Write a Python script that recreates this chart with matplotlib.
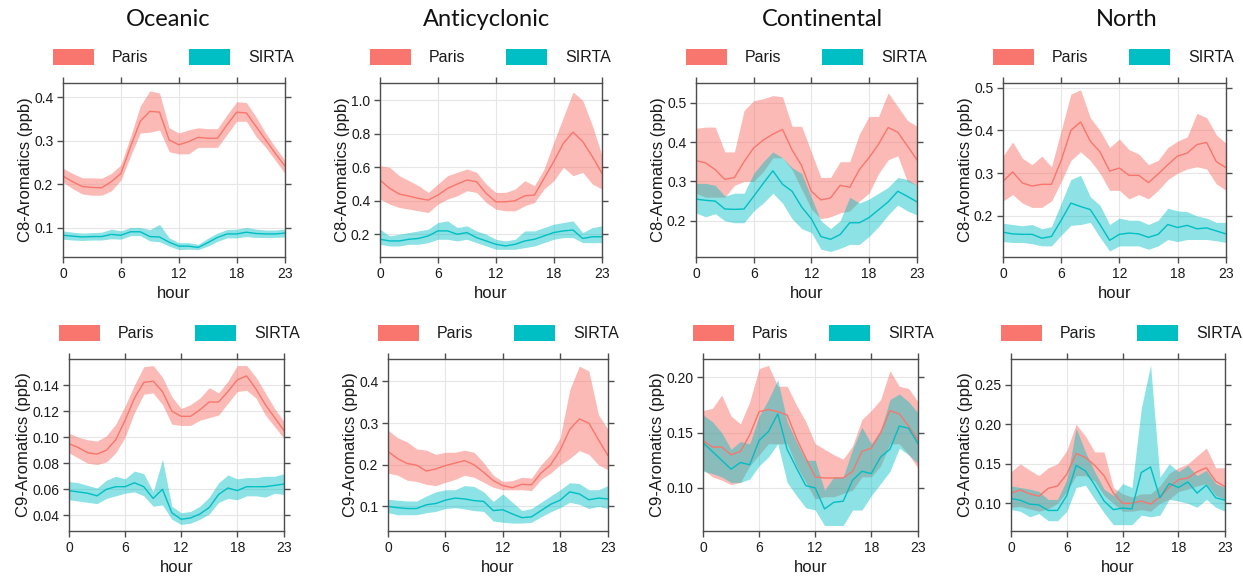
import numpy as np
import matplotlib
matplotlib.use("Agg")
import matplotlib.pyplot as plt
import matplotlib.patches as mpatches
from matplotlib.ticker import FormatStrFormatter

plt.rcParams['font.family'] = ['Liberation Sans', 'DejaVu Sans']

hours = list(range(24))
regimes = ['Oceanic', 'Anticyclonic', 'Continental', 'North']
sites = ['Paris', 'SIRTA']
paris_col = '#F8766D'
sirta_col = '#00BFC4'

# ---- C8-Aromatics (ppb), row 1 ----
oce_c8_paris = [0.219, 0.206, 0.195, 0.193, 0.192, 0.206, 0.225, 0.287, 0.345, 0.368, 0.366, 0.302,
                0.291, 0.298, 0.308, 0.306, 0.306, 0.337, 0.366, 0.364, 0.333, 0.302, 0.271, 0.242]
oce_c8_paris_hi = [0.237, 0.225, 0.215, 0.215, 0.214, 0.225, 0.245, 0.31, 0.38, 0.415, 0.41, 0.33,
                   0.318, 0.325, 0.33, 0.328, 0.328, 0.36, 0.39, 0.388, 0.355, 0.318, 0.285, 0.255]
oce_c8_paris_lo = [0.205, 0.19, 0.178, 0.175, 0.175, 0.185, 0.21, 0.265, 0.318, 0.32, 0.325, 0.275,
                   0.27, 0.27, 0.285, 0.285, 0.285, 0.315, 0.345, 0.345, 0.31, 0.285, 0.255, 0.225]
oce_c8_sirta = [0.083, 0.081, 0.079, 0.080, 0.080, 0.085, 0.083, 0.091, 0.091, 0.080, 0.079, 0.067,
                0.058, 0.058, 0.055, 0.066, 0.078, 0.086, 0.086, 0.090, 0.087, 0.086, 0.086, 0.088]
oce_c8_sirta_hi = [0.093, 0.09, 0.088, 0.089, 0.09, 0.097, 0.093, 0.101, 0.101, 0.096, 0.108, 0.077,
                   0.066, 0.066, 0.062, 0.076, 0.088, 0.096, 0.097, 0.101, 0.097, 0.095, 0.095, 0.097]
oce_c8_sirta_lo = [0.074, 0.072, 0.071, 0.072, 0.072, 0.075, 0.074, 0.082, 0.082, 0.07, 0.068, 0.058,
                   0.050, 0.051, 0.05, 0.058, 0.069, 0.077, 0.077, 0.08, 0.078, 0.078, 0.078, 0.079]

ant_c8_paris = [0.524, 0.474, 0.44, 0.428, 0.414, 0.404, 0.434, 0.474, 0.5, 0.524, 0.514, 0.444,
                0.394, 0.394, 0.4, 0.43, 0.434, 0.534, 0.634, 0.744, 0.81, 0.754, 0.664, 0.564]
ant_c8_paris_hi = [0.61, 0.6, 0.55, 0.52, 0.49, 0.45, 0.5, 0.55, 0.57, 0.59, 0.57, 0.5,
                   0.45, 0.45, 0.47, 0.52, 0.49, 0.59, 0.75, 0.9, 1.05, 1.0, 0.85, 0.67]
ant_c8_paris_lo = [0.41, 0.38, 0.36, 0.35, 0.34, 0.33, 0.38, 0.41, 0.43, 0.46, 0.45, 0.39,
                   0.35, 0.34, 0.34, 0.37, 0.39, 0.47, 0.52, 0.6, 0.55, 0.57, 0.5, 0.47]
ant_c8_sirta = [0.17, 0.16, 0.16, 0.17, 0.175, 0.19, 0.22, 0.22, 0.2, 0.21, 0.18, 0.16,
                0.14, 0.13, 0.14, 0.16, 0.17, 0.19, 0.21, 0.22, 0.225, 0.175, 0.185, 0.185]
ant_c8_sirta_hi = [0.23, 0.19, 0.2, 0.21, 0.22, 0.23, 0.27, 0.28, 0.24, 0.25, 0.22, 0.2,
                   0.17, 0.16, 0.17, 0.22, 0.22, 0.24, 0.26, 0.27, 0.28, 0.21, 0.24, 0.25]
ant_c8_sirta_lo = [0.14, 0.13, 0.13, 0.14, 0.14, 0.15, 0.17, 0.17, 0.16, 0.17, 0.15, 0.13,
                   0.11, 0.11, 0.11, 0.12, 0.13, 0.15, 0.17, 0.18, 0.18, 0.15, 0.15, 0.15]

con_c8_paris = [0.353, 0.347, 0.33, 0.305, 0.31, 0.35, 0.385, 0.405, 0.42, 0.432, 0.38, 0.34,
                0.275, 0.253, 0.258, 0.29, 0.285, 0.33, 0.36, 0.395, 0.437, 0.425, 0.39, 0.355]
con_c8_paris_hi = [0.435, 0.438, 0.438, 0.375, 0.375, 0.48, 0.505, 0.51, 0.518, 0.515, 0.44, 0.44,
                   0.375, 0.31, 0.31, 0.35, 0.35, 0.42, 0.465, 0.465, 0.525, 0.49, 0.455, 0.44]
con_c8_paris_lo = [0.27, 0.26, 0.26, 0.26, 0.29, 0.3, 0.3, 0.325, 0.36, 0.36, 0.33, 0.28,
                   0.23, 0.205, 0.21, 0.22, 0.225, 0.25, 0.27, 0.32, 0.355, 0.365, 0.3, 0.29]
con_c8_sirta = [0.255, 0.252, 0.25, 0.23, 0.229, 0.23, 0.262, 0.295, 0.327, 0.293, 0.275, 0.235,
                0.205, 0.16, 0.153, 0.165, 0.195, 0.195, 0.208, 0.228, 0.248, 0.275, 0.262, 0.248]
con_c8_sirta_hi = [0.295, 0.295, 0.29, 0.263, 0.27, 0.27, 0.32, 0.35, 0.375, 0.36, 0.335, 0.32,
                   0.26, 0.2, 0.18, 0.2, 0.26, 0.245, 0.255, 0.27, 0.285, 0.31, 0.305, 0.29]
con_c8_sirta_lo = [0.22, 0.21, 0.218, 0.2, 0.195, 0.195, 0.225, 0.245, 0.27, 0.245, 0.205, 0.18,
                   0.17, 0.128, 0.122, 0.13, 0.14, 0.14, 0.16, 0.185, 0.215, 0.24, 0.225, 0.215]

nor_c8_paris = [0.281, 0.303, 0.277, 0.27, 0.274, 0.274, 0.33, 0.4, 0.42, 0.375, 0.35, 0.305,
                0.312, 0.295, 0.295, 0.278, 0.298, 0.32, 0.34, 0.347, 0.367, 0.372, 0.327, 0.313]
nor_c8_paris_hi = [0.34, 0.373, 0.335, 0.32, 0.34, 0.315, 0.4, 0.485, 0.495, 0.43, 0.4, 0.36,
                   0.38, 0.355, 0.345, 0.32, 0.33, 0.36, 0.375, 0.385, 0.44, 0.43, 0.39, 0.37]
nor_c8_paris_lo = [0.235, 0.25, 0.23, 0.22, 0.22, 0.235, 0.28, 0.33, 0.35, 0.33, 0.3, 0.26,
                   0.26, 0.24, 0.25, 0.24, 0.26, 0.285, 0.3, 0.31, 0.315, 0.31, 0.275, 0.26]
nor_c8_sirta = [0.162, 0.158, 0.157, 0.157, 0.148, 0.152, 0.19, 0.23, 0.222, 0.215, 0.18, 0.143,
                0.157, 0.16, 0.158, 0.15, 0.157, 0.18, 0.173, 0.178, 0.17, 0.172, 0.165, 0.158]
nor_c8_sirta_hi = [0.183, 0.18, 0.177, 0.18, 0.17, 0.175, 0.23, 0.285, 0.295, 0.245, 0.225, 0.18,
                   0.195, 0.19, 0.19, 0.18, 0.19, 0.218, 0.212, 0.21, 0.2, 0.195, 0.185, 0.185]
nor_c8_sirta_lo = [0.14, 0.138, 0.138, 0.135, 0.13, 0.13, 0.155, 0.178, 0.18, 0.185, 0.15, 0.118,
                   0.13, 0.13, 0.13, 0.122, 0.13, 0.145, 0.14, 0.145, 0.145, 0.145, 0.142, 0.138]

# ---- C9-Aromatics (ppb), row 2 ----
oce_c9_paris = [0.095, 0.092, 0.088, 0.087, 0.09, 0.098, 0.113, 0.13, 0.142, 0.143, 0.135, 0.12,
                0.116, 0.116, 0.121, 0.127, 0.127, 0.135, 0.144, 0.147, 0.137, 0.125, 0.115, 0.105]
oce_c9_paris_hi = [0.103, 0.1, 0.098, 0.097, 0.101, 0.11, 0.124, 0.14, 0.154, 0.155, 0.146, 0.131,
                   0.122, 0.125, 0.13, 0.138, 0.134, 0.143, 0.155, 0.155, 0.146, 0.134, 0.122, 0.112]
oce_c9_paris_lo = [0.088, 0.084, 0.08, 0.079, 0.081, 0.088, 0.1, 0.119, 0.133, 0.134, 0.125, 0.11,
                   0.109, 0.109, 0.113, 0.115, 0.117, 0.126, 0.135, 0.136, 0.13, 0.117, 0.108, 0.099]
oce_c9_sirta = [0.059, 0.058, 0.057, 0.055, 0.060, 0.062, 0.062, 0.065, 0.062, 0.053, 0.060, 0.042,
                0.037, 0.038, 0.041, 0.046, 0.056, 0.061, 0.059, 0.062, 0.062, 0.062, 0.063, 0.064]
oce_c9_sirta_hi = [0.066, 0.065, 0.063, 0.061, 0.067, 0.070, 0.068, 0.074, 0.072, 0.058, 0.083, 0.047,
                   0.042, 0.043, 0.047, 0.054, 0.065, 0.071, 0.068, 0.069, 0.069, 0.07, 0.07, 0.072]
oce_c9_sirta_lo = [0.052, 0.051, 0.05, 0.049, 0.053, 0.055, 0.057, 0.058, 0.055, 0.047, 0.048, 0.037,
                   0.033, 0.034, 0.037, 0.041, 0.05, 0.053, 0.052, 0.055, 0.055, 0.054, 0.057, 0.056]

ant_c9_paris = [0.232, 0.215, 0.203, 0.199, 0.185, 0.19, 0.198, 0.204, 0.21, 0.2, 0.182, 0.162,
                0.15, 0.145, 0.153, 0.152, 0.18, 0.2, 0.235, 0.285, 0.31, 0.3, 0.26, 0.222]
ant_c9_paris_hi = [0.283, 0.265, 0.255, 0.238, 0.235, 0.225, 0.23, 0.23, 0.235, 0.23, 0.205, 0.175,
                   0.16, 0.162, 0.17, 0.168, 0.2, 0.225, 0.265, 0.38, 0.437, 0.425, 0.32, 0.285]
ant_c9_paris_lo = [0.18, 0.175, 0.163, 0.16, 0.153, 0.15, 0.158, 0.165, 0.175, 0.17, 0.158, 0.146,
                   0.14, 0.14, 0.14, 0.138, 0.165, 0.18, 0.2, 0.215, 0.234, 0.225, 0.2, 0.188]
ant_c9_sirta = [0.1, 0.097, 0.095, 0.095, 0.104, 0.107, 0.115, 0.12, 0.118, 0.114, 0.112, 0.09,
                0.092, 0.082, 0.073, 0.075, 0.09, 0.105, 0.115, 0.135, 0.13, 0.116, 0.12, 0.118]
ant_c9_sirta_hi = [0.117, 0.115, 0.113, 0.113, 0.125, 0.135, 0.14, 0.14, 0.15, 0.148, 0.135, 0.112,
                   0.13, 0.11, 0.09, 0.095, 0.11, 0.125, 0.14, 0.157, 0.155, 0.14, 0.14, 0.15]
ant_c9_sirta_lo = [0.085, 0.08, 0.08, 0.08, 0.085, 0.088, 0.095, 0.097, 0.094, 0.09, 0.088, 0.065,
                   0.062, 0.06, 0.06, 0.062, 0.075, 0.087, 0.097, 0.11, 0.105, 0.095, 0.1, 0.095]

con_c9_paris = [0.143, 0.137, 0.137, 0.13, 0.133, 0.148, 0.169, 0.171, 0.169, 0.166, 0.145, 0.127,
                0.11, 0.109, 0.109, 0.109, 0.115, 0.133, 0.136, 0.15, 0.17, 0.167, 0.156, 0.143]
con_c9_paris_hi = [0.17, 0.172, 0.184, 0.165, 0.158, 0.178, 0.208, 0.211, 0.192, 0.192, 0.175, 0.16,
                   0.14, 0.135, 0.13, 0.126, 0.138, 0.162, 0.17, 0.18, 0.206, 0.192, 0.19, 0.178]
con_c9_paris_lo = [0.117, 0.11, 0.107, 0.103, 0.105, 0.12, 0.13, 0.14, 0.14, 0.14, 0.12, 0.105,
                   0.09, 0.092, 0.092, 0.095, 0.098, 0.11, 0.11, 0.12, 0.14, 0.14, 0.13, 0.118]
con_c9_sirta = [0.141, 0.133, 0.125, 0.117, 0.123, 0.121, 0.143, 0.151, 0.167, 0.135, 0.118, 0.102,
                0.1, 0.081, 0.087, 0.088, 0.107, 0.115, 0.113, 0.128, 0.135, 0.156, 0.154, 0.14]
con_c9_sirta_hi = [0.166, 0.16, 0.15, 0.135, 0.142, 0.14, 0.165, 0.18, 0.198, 0.16, 0.142, 0.125,
                   0.125, 0.098, 0.11, 0.11, 0.135, 0.155, 0.14, 0.152, 0.18, 0.185, 0.178, 0.168]
con_c9_sirta_lo = [0.115, 0.113, 0.11, 0.105, 0.105, 0.108, 0.12, 0.128, 0.14, 0.105, 0.093, 0.082,
                   0.08, 0.066, 0.066, 0.066, 0.08, 0.08, 0.093, 0.104, 0.115, 0.136, 0.13, 0.122]

nor_c9_paris = [0.113, 0.117, 0.112, 0.109, 0.119, 0.122, 0.137, 0.163, 0.158, 0.148, 0.135, 0.113,
                0.1, 0.1, 0.103, 0.099, 0.108, 0.12, 0.13, 0.132, 0.14, 0.145, 0.128, 0.121]
nor_c9_paris_hi = [0.14, 0.15, 0.142, 0.135, 0.145, 0.15, 0.167, 0.2, 0.185, 0.165, 0.165, 0.12,
                   0.112, 0.108, 0.112, 0.112, 0.122, 0.138, 0.145, 0.15, 0.16, 0.17, 0.145, 0.145]
nor_c9_paris_lo = [0.095, 0.096, 0.093, 0.09, 0.093, 0.1, 0.115, 0.135, 0.135, 0.128, 0.11, 0.1,
                   0.09, 0.09, 0.092, 0.09, 0.1, 0.105, 0.115, 0.118, 0.122, 0.125, 0.11, 0.105]
nor_c9_sirta = [0.106, 0.104, 0.099, 0.098, 0.091, 0.091, 0.11, 0.148, 0.141, 0.123, 0.103, 0.092,
                0.094, 0.093, 0.139, 0.146, 0.107, 0.125, 0.12, 0.127, 0.113, 0.123, 0.107, 0.104]
nor_c9_sirta_hi = [0.122, 0.12, 0.118, 0.115, 0.105, 0.105, 0.13, 0.195, 0.165, 0.14, 0.118, 0.11,
                   0.125, 0.12, 0.22, 0.275, 0.133, 0.15, 0.14, 0.148, 0.135, 0.142, 0.125, 0.12]
nor_c9_sirta_lo = [0.092, 0.09, 0.083, 0.087, 0.078, 0.078, 0.09, 0.12, 0.123, 0.105, 0.088, 0.073,
                   0.073, 0.073, 0.085, 0.083, 0.085, 0.105, 0.103, 0.1, 0.095, 0.105, 0.095, 0.09]

xticks = [0, 6, 12, 18, 23]
c8_yticks = [[0.1, 0.2, 0.3, 0.4], [0.2, 0.4, 0.6, 0.8, 1.0], [0.2, 0.3, 0.4, 0.5], [0.2, 0.3, 0.4, 0.5]]
c9_yticks = [[0.04, 0.06, 0.08, 0.10, 0.12, 0.14], [0.1, 0.2, 0.3, 0.4],
             [0.10, 0.15, 0.20], [0.10, 0.15, 0.20, 0.25]]

rows = [
    ('C8-Aromatics (ppb)', c8_yticks, [
        (oce_c8_paris, oce_c8_paris_lo, oce_c8_paris_hi, oce_c8_sirta, oce_c8_sirta_lo, oce_c8_sirta_hi),
        (ant_c8_paris, ant_c8_paris_lo, ant_c8_paris_hi, ant_c8_sirta, ant_c8_sirta_lo, ant_c8_sirta_hi),
        (con_c8_paris, con_c8_paris_lo, con_c8_paris_hi, con_c8_sirta, con_c8_sirta_lo, con_c8_sirta_hi),
        (nor_c8_paris, nor_c8_paris_lo, nor_c8_paris_hi, nor_c8_sirta, nor_c8_sirta_lo, nor_c8_sirta_hi)]),
    ('C9-Aromatics (ppb)', c9_yticks, [
        (oce_c9_paris, oce_c9_paris_lo, oce_c9_paris_hi, oce_c9_sirta, oce_c9_sirta_lo, oce_c9_sirta_hi),
        (ant_c9_paris, ant_c9_paris_lo, ant_c9_paris_hi, ant_c9_sirta, ant_c9_sirta_lo, ant_c9_sirta_hi),
        (con_c9_paris, con_c9_paris_lo, con_c9_paris_hi, con_c9_sirta, con_c9_sirta_lo, con_c9_sirta_hi),
        (nor_c9_paris, nor_c9_paris_lo, nor_c9_paris_hi, nor_c9_sirta, nor_c9_sirta_lo, nor_c9_sirta_hi)]),
]

# layout in pixels
W, H = 1243, 581
row_lefts = [[63, 380, 696, 1003], [69, 388, 703, 1011]]
row_rights = [[285, 602, 917, 1226], [284, 608, 918, 1225]]
row_tops = [83, 359]
row_bottoms = [257, 531]
legend_y = [57, 333]
title_x = [168, 486, 822, 1127]
ylims = [[(0.033, 0.433), (0.064, 1.104), (0.108, 0.55), (0.104, 0.511)],
         [(0.028, 0.160), (0.041, 0.454), (0.061, 0.2167), (0.065, 0.2826)]]
yfmt = [['%.1f', '%.1f', '%.1f', '%.1f'], ['%.2f', '%.1f', '%.2f', '%.2f']]

fig = plt.figure(figsize=(W / 100, H / 100), dpi=100)
spine_col = '#4d4d4d'

for r, (ylab, yt, panels) in enumerate(rows):
    for c, (pm, plo, phi, sm, slo, shi) in enumerate(panels):
        L, R = row_lefts[r][c], row_rights[r][c]
        T, B = row_tops[r], row_bottoms[r]
        ax = fig.add_axes([L / W, 1 - B / H, (R - L) / W, (B - T) / H])
        ax.fill_between(hours, plo, phi, color=paris_col, alpha=0.5, lw=0)
        ax.fill_between(hours, slo, shi, color=sirta_col, alpha=0.45, lw=0)
        ax.plot(hours, pm, color=paris_col, lw=1)
        ax.plot(hours, sm, color=sirta_col, lw=1)
        ax.set_xlim(0, 23)
        ax.set_ylim(*ylims[r][c])
        ax.set_xticks(xticks)
        ax.set_yticks(yt[c])
        ax.yaxis.set_major_formatter(FormatStrFormatter(yfmt[r][c]))
        ax.grid(True, color='#e6e6e6', lw=0.8)
        ax.set_axisbelow(True)
        for s in ax.spines.values():
            s.set_color(spine_col)
            s.set_linewidth(1.0)
        ax.tick_params(direction='out', length=4, width=1, color=spine_col,
                       top=True, right=True, labelsize=10, labelcolor='#1a1a1a', pad=3)
        ax.set_xlabel('hour', fontsize=12, labelpad=4, color='#1a1a1a')
        ax.set_ylabel(ylab, fontsize=12, labelpad=1, color='#1a1a1a')

        # legend row above each panel
        yc = legend_y[r]
        for name, col, off in [(sites[0], paris_col, 0), (sites[1], sirta_col, 136)]:
            x0 = L - 10 + off
            fig.add_artist(mpatches.Rectangle((x0 / W, 1 - (yc + 8) / H), 41 / W, 16 / H,
                                              transform=fig.transFigure, facecolor=col,
                                              edgecolor='none'))
            fig.text((x0 + 59) / W, 1 - yc / H, name, fontsize=11.5, va='center', ha='left',
                     color='#1a1a1a')

for c, name in enumerate(regimes):
    fig.text(title_x[c] / W, 1 - 20 / H, name, fontsize=17, family=['Lato', 'DejaVu Sans'],
             ha='center', va='center', color='#111111')

fig.savefig('out.png', dpi=100)
